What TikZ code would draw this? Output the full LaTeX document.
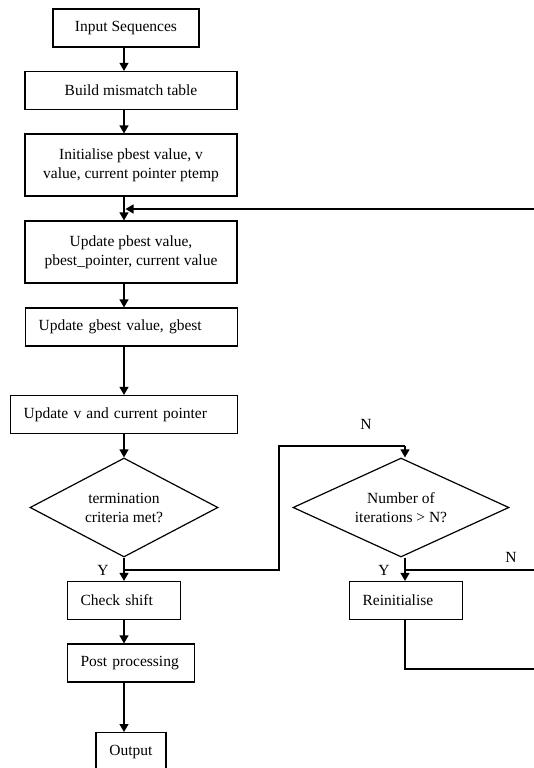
\documentclass[tikz,border=0pt]{standalone}
\usepackage{fontspec}
\setmainfont{Liberation Serif}
\usetikzlibrary{arrows.meta,shapes.geometric}
\begin{document}
\begin{tikzpicture}[x=1pt,y=-1pt,
  every node/.style={font=\fontsize{15.5}{19}\selectfont},
  cbox/.style={draw,line width=1.2pt,minimum height=38pt,inner sep=0pt,align=center},
  lbox/.style={draw,line width=1.2pt,minimum height=38pt,inner ysep=0pt,inner xsep=13pt,
    align=left,anchor=west,text width=#1},
  dec/.style={draw,diamond,line width=1.2pt,inner sep=0pt,aspect=2,align=center},
  line/.style={line width=1.2pt},
  arr/.style={line width=1.2pt,-{Triangle[length=8pt,width=9pt]}},
  lab/.style={inner sep=0pt}
]
\useasboundingbox (0,0) rectangle (534,768);
\clip (0,0) rectangle (534,768);

\node[cbox,minimum width=146pt] (in) at (126,28) {Input Sequences};
\node[cbox,minimum width=212pt] (build) at (131,90.5) {Build mismatch table};
\node[cbox,minimum width=212pt,minimum height=62pt] (init) at (131,165)
  {Initialise pbest value, v\\value, current pointer ptemp};
\node[cbox,minimum width=212pt,minimum height=62pt] (upd1) at (131,252)
  {Update pbest value,\\pbest\_pointer, current value};
\node[lbox=186pt] (upd2) at (25,327) {Update gbest value, gbest};
\node[lbox=201pt] (updv) at (10,414.5) {Update v and current pointer};
\node[dec,minimum width=188pt,minimum height=99pt] (d1) at (124,507.5)
  {termination\\criteria met?};
\node[dec,minimum width=216pt,minimum height=99pt] (d2) at (401,507.5)
  {Number of\\iterations > N?};
\node[lbox=87pt] (check) at (67,600.5) {Check shift};
\node[lbox=101pt] (post) at (67,663) {Post processing};
\node[cbox,minimum width=70pt,anchor=north] (out) at (131,732) {Output};
\node[lbox=87pt] (reinit) at (349,600.5) {Reinitialise};

\node[lab] (y1) at (103,570) {Y};
\node[lab] (y2) at (384,570) {Y};
\node[lab] (n1) at (366,424) {N};
\node[lab] (n2) at (511,557) {N};

\coordinate (c1) at (124,0);
\coordinate (c2) at (405,0);
\coordinate (loopR) at (534,209);
\coordinate (loopL) at (125.5,209);
\coordinate (yj) at (124,570);
\coordinate (ya) at (279,570);
\coordinate (yb) at (279,446);
\coordinate (yc) at (405,446);
\coordinate (nj) at (405,570);
\coordinate (nR) at (534,570);
\coordinate (rb) at (405,669);
\coordinate (rR) at (534,669);

\draw[arr] (c1 |- in.south) -- (c1 |- build.north);
\draw[arr] (c1 |- build.south) -- (c1 |- init.north);
\draw[arr] (c1 |- init.south) -- (c1 |- upd1.north);
\draw[arr] (loopR) -- (loopL);
\draw[arr] (c1 |- upd1.south) -- (c1 |- upd2.north);
\draw[arr] (c1 |- upd2.south) -- (c1 |- updv.north);
\draw[arr] (c1 |- updv.south) -- (d1.north);
\draw[arr] (d1.south) -- (c1 |- check.north);
\draw[arr] (c1 |- check.south) -- (c1 |- post.north);
\draw[arr] (c1 |- post.south) -- (c1 |- out.north);
\draw[line] (yj) -- (ya) -- (yb) -- (yc);
\draw[arr] (yc) -- (c2 |- d2.north);
\draw[arr] (c2 |- d2.south) -- (c2 |- reinit.north);
\draw[line] (nj) -- (nR);
\draw[line] (c2 |- reinit.south) -- (rb) -- (rR);
\end{tikzpicture}
\end{document}
